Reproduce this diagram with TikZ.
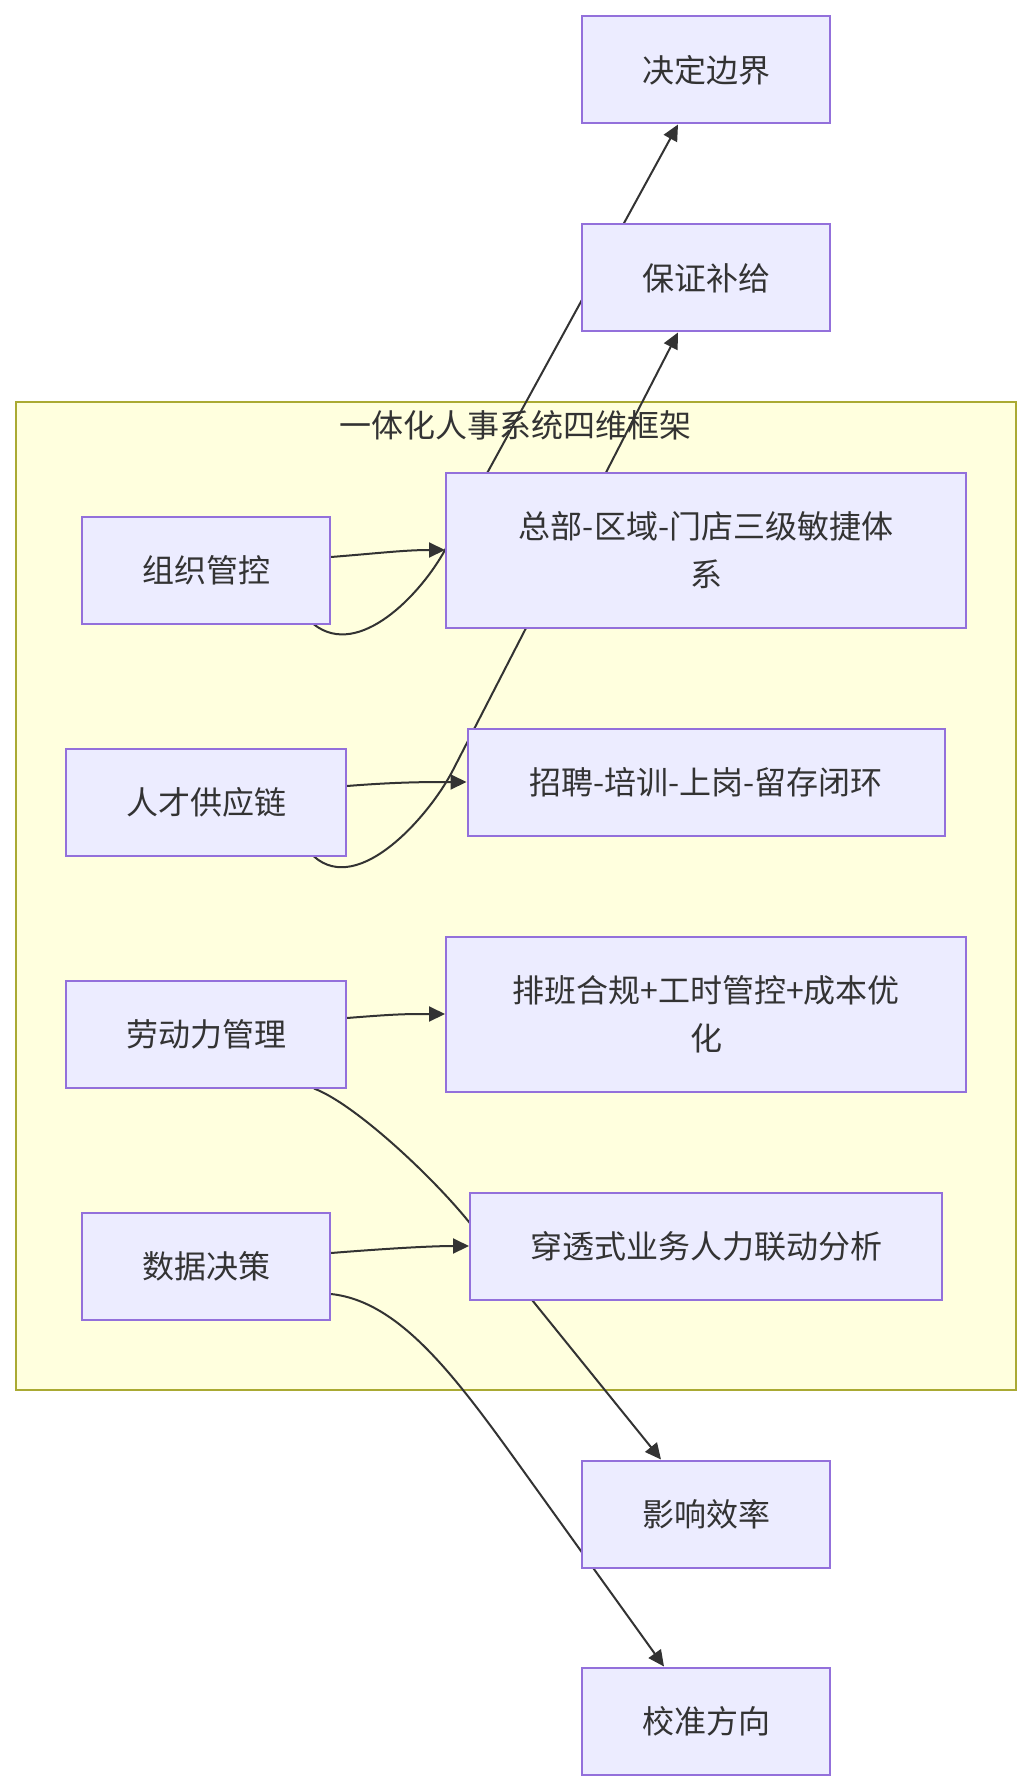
\documentclass[tikz,border=0pt]{standalone}
\usepackage{fontspec}
\newfontfamily\cjk{Noto Sans CJK SC}
\usetikzlibrary{arrows.meta, positioning, calc}
\definecolor{nodefill}{HTML}{ECECFF}
\definecolor{nodeline}{HTML}{9370DB}
\definecolor{clusterfill}{HTML}{FFFFDE}
\definecolor{clusterline}{HTML}{AAAA33}
\definecolor{ink}{HTML}{333333}
\pgfdeclarelayer{back}
\pgfdeclarelayer{wires}
\pgfsetlayers{back,wires,main}
\tikzset{
  box/.style     = {draw=nodeline, fill=nodefill, line width=1pt, align=center,
                    text=ink, font=\cjk\fontsize{16}{24}\selectfont,
                    minimum width=124pt, minimum height=53.5pt, inner sep=0pt},
  wide/.style    = {box, minimum width=260pt, minimum height=77.5pt},
  mid/.style     = {box, minimum width=140pt},
  link/.style    = {draw=ink, line width=1pt, -{Triangle[length=8pt, width=7.5pt]}},
  frame/.style   = {draw=clusterline, fill=clusterfill, line width=1pt},
  heading/.style = {text=ink, font=\cjk\fontsize{16}{24}\selectfont},
}

\begin{document}
\begin{tikzpicture}[x=0.5pt, y=0.5pt]
  \useasboundingbox (0,0) rectangle (1032,-1792);
  % top column
  \node[box] (bound) at (706,-70) {决定边界};
  \node[box] (supply) at (706,-278) {保证补给};

  % four dimensions
  \node[box] (org) at (206,-570) {组织管控};
  \node[wide] (hq) at (706,-550) {总部-区域-门店三级敏捷体\\系};
  \node[mid] (talent) at (206,-802) {人才供应链};
  \node[box, minimum width=238.5pt] (recruit) at (706,-782) {招聘-培训-上岗-留存闭环};
  \node[mid] (labor) at (206,-1034) {劳动力管理};
  \node[wide] (sched) at (706,-1014) {排班合规+工时管控+成本优\\化};
  \node[box] (data) at (206,-1266) {数据决策};
  \node[box, minimum width=236pt] (ana) at (706,-1246) {穿透式业务人力联动分析};

  % bottom column
  \node[box] (impact) at (706,-1514) {影响效率};
  \node[box] (calib) at (706,-1721) {校准方向};

  \coordinate (bendC) at (453,-770);
  \coordinate (bendG) at (469,-1222);
  \coordinate (bendH) at (540,-1494);

  \begin{pgfonlayer}{back}
    \draw[frame] (16,-402) rectangle (1016,-1390);
    \node[heading] (title) at (515,-425) {一体化人事系统四维框架};
  \end{pgfonlayer}

  % connectors run behind the boxes
  \begin{pgfonlayer}{wires}
    \draw[link] ([yshift=6.5pt]org.east) .. controls +(50,4) and +(-40,0) .. (hq.west);
    \draw[link] ([xshift=54pt]org.south) .. controls +(45,-35) and +(-24,-44) .. (hq.west)
      -- ([xshift=-14pt]bound.south);
    \draw[link] ([yshift=8pt]talent.east) .. controls +(50,4) and +(-40,0) .. (recruit.west);
    \draw[link] ([xshift=54pt]talent.south) .. controls +(45,-40) and +(-23,-45) .. (bendC)
      -- ([xshift=-14pt]supply.south);
    \draw[link] ([yshift=8pt]labor.east) .. controls +(50,4) and +(-40,0) .. (sched.west);
    \draw[link] ([xshift=54pt]labor.south) .. controls +(40,-15) and +(-38,47) .. (bendG)
      -- ([xshift=-22.5pt]impact.north);
    \draw[link] ([yshift=6.5pt]data.east) .. controls +(50,4) and +(-40,0) .. (ana.west);
    \draw[link] ([yshift=-14pt]data.east) .. controls +(75,-8) and +(-75,104) .. (bendH)
      -- ([xshift=-21pt]calib.north);
  \end{pgfonlayer}
\end{tikzpicture}
\end{document}
